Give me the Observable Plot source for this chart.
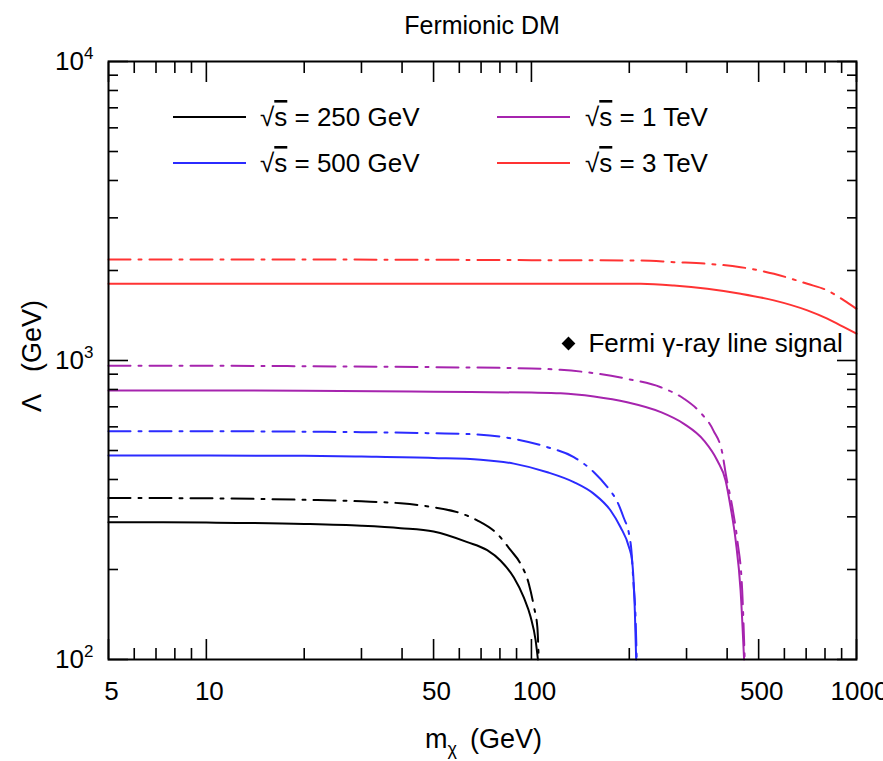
<!DOCTYPE html>
<html><head><meta charset="utf-8">
<script src="https://cdn.jsdelivr.net/npm/d3@7"></script>
<script src="https://cdn.jsdelivr.net/npm/@observablehq/plot@0.6"></script>
<style>
body{margin:0;background:#fff;}
svg{font-family:"Liberation Sans",Arial,Helvetica,sans-serif;}
</style>
</head><body><div id="chart"></div>
<script>
// ---- series metadata ----
const seriesNames = ["250 GeV", "500 GeV", "1 TeV", "3 TeV"];
const seriesColors = ["#000000", "#2b2bff", "#a624ae", "#ff3333"];

// ---- curves: m_chi (GeV) and Lambda (GeV) ----
const m250Solid   = [5,10,20,30,39.6,50,63.5,73.1,80.4,88.3,94.8,99.4,103,104.7];
const lam250Solid = [288,287,284,280,275,268,247,232,214,188,161,139,116,100];
const m250Dash    = [5,10,20,30,39.6,50,59.1,68.1,78.5,86.3,92.6,98.2,101.8,104.3,105.3];
const lam250Dash  = [347,346,342,338,333,323,311,292,263,232,209,179,150,128,100];

const m500Solid   = [5,10,20,30,50,69.8,88.3,112,135,155.7,175.2,188,199.5,204,208,210];
const lam500Solid = [481,481,480,477,472,466,452,423,392,358,315,277,238,214,146,100];
const m500Dash    = [5,10,20,30,50,69.8,88.3,112,135,155.7,173,183,192,200,203,206,209,210.8];
const lam500Dash  = [580,580,578,576,571,565,547,513,475,423,372,340,299,260,232,180,140,100];

const m1Solid     = [5,10,20,50,100,123,155.7,197,250,294.6,339.5,373,395.6,410,425,440,451];
const lam1Solid   = [794,794,792,786,781,777,758,725,672,614,540,463,397,323,250,170,100];
const m1Dash      = [5,10,20,50,100,123,155.7,197,250,294.6,330,363,387,396,415,430,445,453];
const lam1Dash    = [960,960,957,950,940,931,907,868,814,745,672,583,487,418,323,250,170,100];

const m3Solid     = [5,10,20,50,100,216.8,274.4,347.6,440,557,706,813,915,1000];
const lam3Solid   = [1806,1806,1806,1806,1805,1805,1782,1738,1672,1589,1471,1380,1293,1229];
const m3Dash      = [5,10,20,50,100,216.8,274.4,347.6,440,557,706,813,915,1000];
const lam3Dash    = [2177,2177,2176,2172,2166,2160,2133,2106,2052,1950,1805,1716,1589,1489];

// ---- annotation ----
const fermiPoint = [{m: 130, lam: 1140, label: "Fermi \u03b3-ray line signal"}];

// ---- ticks ----
const xMajor = [5, 10, 50, 100, 500, 1000];
const xMinor = [6,7,8,9,20,30,40,60,70,80,90,200,300,400,600,700,800,900];
const xLabels = [5, 10, 50, 100, 500, 1000];
const yMajor = [100, 1000, 10000];
const yMinor = [200,300,400,500,600,700,800,900,2000,3000,4000,5000,6000,7000,8000,9000];

const curves = [
  {s: 0, dash: false, m: m250Solid, l: lam250Solid},
  {s: 0, dash: true,  m: m250Dash,  l: lam250Dash},
  {s: 1, dash: false, m: m500Solid, l: lam500Solid},
  {s: 1, dash: true,  m: m500Dash,  l: lam500Dash},
  {s: 2, dash: false, m: m1Solid,   l: lam1Solid},
  {s: 2, dash: true,  m: m1Dash,    l: lam1Dash},
  {s: 3, dash: false, m: m3Solid,   l: lam3Solid},
  {s: 3, dash: true,  m: m3Dash,    l: lam3Dash}
];

const DASH = "22,8,3,8";
const FS = 26;

const lineMarks = curves.map(c => Plot.line(
  c.m.map((m, i) => ({m, lam: c.l[i]})),
  {x: "m", y: "lam", stroke: seriesColors[c.s], strokeWidth: 2,
   strokeDasharray: c.dash ? DASH : null, curve: "monotone-x"}
));

const blank = () => "";
const chart = Plot.plot({
  width: 883, height: 761,
  marginTop: 61, marginBottom: 102, marginLeft: 108, marginRight: 27,
  x: {type: "log", domain: [5, 1000]},
  y: {type: "log", domain: [100, 10000]},
  style: {fontFamily: "'Liberation Sans', Arial, sans-serif", fontSize: FS + "px", background: "white", color: "black"},
  marks: [
    ...lineMarks,
    Plot.dot(fermiPoint, {x: "m", y: "lam", symbol: "square", rotate: 45, fill: "black", r: 5.5}),
    Plot.text(fermiPoint, {x: "m", y: "lam", text: "label", dx: 20, textAnchor: "start", fontSize: FS, fill: "black"}),
    // bottom axis
    Plot.axisX(xMajor, {anchor: "bottom", tickSize: -20, tickFormat: blank, label: null, strokeWidth: 1.6}),
    Plot.axisX(xMinor, {anchor: "bottom", tickSize: -11, tickFormat: blank, label: null, strokeWidth: 1.6}),
    Plot.text(xLabels, {x: d => d, frameAnchor: "bottom", dy: 22, dx: 3, lineAnchor: "top",
      text: d => String(d), fontSize: FS, fill: "black"}),
    // top axis
    Plot.axisX(xMajor, {anchor: "top", tickSize: -20, tickFormat: blank, label: null, strokeWidth: 1.6}),
    Plot.axisX(xMinor, {anchor: "top", tickSize: -11, tickFormat: blank, label: null, strokeWidth: 1.6}),
    // left axis
    Plot.axisY(yMajor, {anchor: "left", tickSize: -20, tickFormat: blank, label: null, strokeWidth: 1.6}),
    Plot.axisY(yMinor, {anchor: "left", tickSize: -10, tickFormat: blank, label: null, strokeWidth: 1.6}),
    Plot.axisY(yMajor, {anchor: "left", tickSize: 0, tickPadding: 15, tickFormat: d => "10^" + Math.round(Math.log10(d)), label: null, fontSize: FS}),
    // right axis
    Plot.axisY(yMajor, {anchor: "right", tickSize: -20, tickFormat: blank, label: null, strokeWidth: 1.6}),
    Plot.axisY(yMinor, {anchor: "right", tickSize: -10, tickFormat: blank, label: null, strokeWidth: 1.6}),
    Plot.frame({stroke: "black", strokeWidth: 2})
  ]
});

document.getElementById("chart").appendChild(chart);

const svg = d3.select(chart);

// superscripts on y tick labels
svg.selectAll('[aria-label="y-axis tick label"] text').each(function() {
  const t = this.textContent;
  if (!t.includes("^")) return;
  const [base, exp] = t.split("^");
  const el = d3.select(this);
  el.text(base);
  el.append("tspan").attr("dy", "-0.62em").attr("font-size", "17px").text(exp);
});

// title
svg.append("text").attr("x", 482).attr("y", 34).attr("text-anchor", "middle")
  .attr("font-size", 25).attr("fill", "black").text("Fermionic DM");

// y label (rotated, reads upward)
const yl = svg.append("text").attr("transform", "translate(41,412) rotate(-90)")
  .attr("text-anchor", "start").attr("font-size", 27).attr("fill", "black");
yl.append("tspan").attr("x", 0).text("\u039b");
yl.append("tspan").attr("x", 40).text("(GeV)");

// x label
const xl = svg.append("text").attr("x", 425).attr("y", 748).attr("text-anchor", "start")
  .attr("font-size", 27).attr("fill", "black");
xl.append("tspan").text("m");
xl.append("tspan").attr("dy", 7).attr("font-size", 18).text("\u03c7");
xl.append("tspan").attr("x", 470).attr("dy", -7).text("(GeV)");

// legend
const legendItems = [
  {s: 0, x1: 173, x2: 246, y: 117, tx: 260},
  {s: 1, x1: 173, x2: 246, y: 163, tx: 260},
  {s: 2, x1: 497, x2: 570, y: 117, tx: 585},
  {s: 3, x1: 497, x2: 570, y: 163, tx: 585}
];
const lg = svg.append("g");
legendItems.forEach(it => {
  lg.append("line").attr("x1", it.x1).attr("x2", it.x2).attr("y1", it.y).attr("y2", it.y)
    .attr("stroke", seriesColors[it.s]).attr("stroke-width", 2);
  const t = lg.append("text").attr("x", it.tx).attr("y", it.y + 9).attr("text-anchor", "start")
    .attr("font-size", FS).attr("fill", "black");
  t.append("tspan").text("\u221a");
  t.append("tspan").attr("style", "text-decoration: overline").text("s");
  t.append("tspan").text(" = " + seriesNames[it.s]);
});
</script>
</body></html>
